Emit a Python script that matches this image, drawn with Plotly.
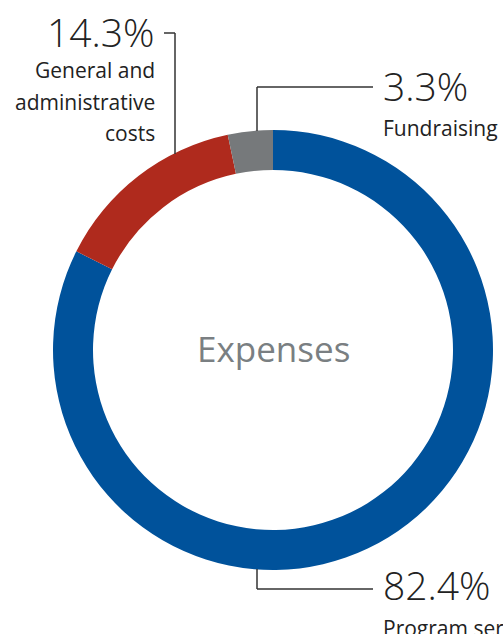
import plotly.graph_objects as go

categories = ["Program services", "General and administrative costs", "Fundraising"]
values = [82.4, 14.3, 3.3]
value_labels = ["82.4%", "14.3%", "3.3%"]
colors = ["#00529B", "#AF2A1D", "#76797B"]

W, H = 503, 634

def px(x):
    return x / W

def py(y):
    return 1 - y / H

cx, cy, R = 273, 350, 220

fig = go.Figure(go.Pie(
    labels=categories,
    values=values,
    sort=False,
    direction="clockwise",
    rotation=0,
    hole=180 / 220,
    marker=dict(colors=colors, line=dict(width=0)),
    textinfo="none",
    hoverinfo="label+percent",
    showlegend=False,
    domain=dict(x=[px(cx - R), px(cx + R)], y=[py(cy + R), py(cy - R)]),
))

line_col = "#333333"
segs = [
    [(164, 33), (175, 33)],
    [(175, 33), (175, 154)],
    [(257, 131), (257, 87)],
    [(257, 87), (373, 87)],
    [(257, 569), (257, 589)],
    [(257, 589), (373, 589)],
]
shapes = []
for (x0, y0), (x1, y1) in segs:
    shapes.append(dict(type="line", xref="paper", yref="paper",
                       x0=px(x0), y0=py(y0), x1=px(x1), y1=py(y1),
                       line=dict(color=line_col, width=1.5)))

NUMF = dict(family="Open Sans", size=39, color="#222222", weight=300)
LABF = dict(family="Open Sans", size=21, color="#222222")

ann = []
def add(text, x, y, xanchor, font):
    ann.append(dict(text=text, x=px(x), y=py(y), xref="paper", yref="paper",
                    xanchor=xanchor, yanchor="middle", showarrow=False, font=font))

add(value_labels[1], 157, 31, "right", NUMF)
add("General and", 157, 70, "right", LABF)
add("administrative", 157, 102, "right", LABF)
add("costs", 157, 133, "right", LABF)
add(value_labels[2], 381, 85, "left", NUMF)
add(categories[2], 381, 128, "left", LABF)
add(value_labels[0], 381, 584, "left", NUMF)
add(categories[0], 381, 628, "left", LABF)
ann.append(dict(text="Expenses", x=px(cx), y=py(348), xref="paper", yref="paper",
                xanchor="center", yanchor="middle", showarrow=False,
                font=dict(family="Open Sans", size=35, color="#7A7F82")))

fig.update_layout(
    width=W, height=H,
    margin=dict(l=0, r=0, t=0, b=0),
    paper_bgcolor="white", plot_bgcolor="white",
    shapes=shapes, annotations=ann,
)

fig.write_html("out.html")
